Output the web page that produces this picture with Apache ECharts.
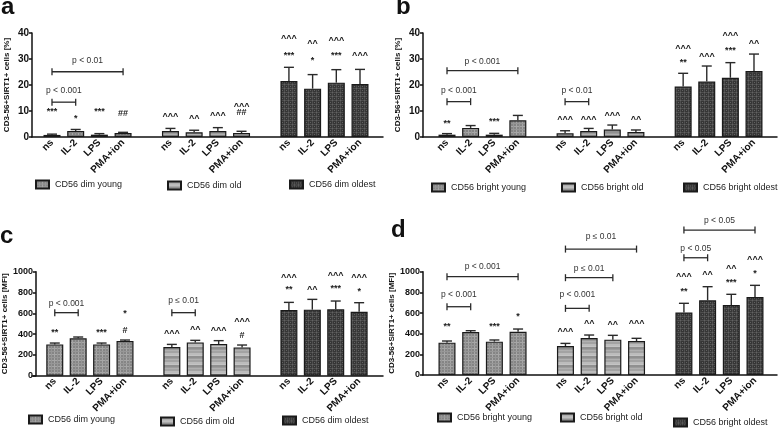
<!DOCTYPE html>
<html><head><meta charset="utf-8">
<script src="https://cdn.jsdelivr.net/npm/echarts@6/dist/echarts.min.js"></script>
<style>html,body{margin:0;padding:0;background:#fff}#c{width:778px;height:429px}</style>
</head><body><div id="c"></div>
<script>
// ---------- categories / groups / ticks ----------
const stimuli = ['ns', 'IL-2', 'LPS', 'PMA+ion'];
const dimGroups = ['CD56 dim young', 'CD56 dim old', 'CD56 dim oldest'];
const brightGroups = ['CD56 bright young', 'CD56 bright old', 'CD56 bright oldest'];
const pctTicks = [0, 10, 20, 30, 40];
const mfiTicks = [0, 200, 400, 600, 800, 1000];
const pctName = 'CD3-56+SIRT1+ cells [%]';
const mfiName = 'CD3-56+SIRT1+ cells [MFI]';

// ---------- panel a : CD56 dim, % ----------
const aYoung = [0.8, 2.3, 0.9, 1.5];
const aYoungErr = [0.3, 0.6, 0.4, 0.3];
const aOld = [2.3, 1.8, 2.3, 1.5];
const aOldErr = [1.0, 0.8, 1.3, 0.7];
const aOldest = [21.5, 18.6, 20.9, 20.4];
const aOldestErr = [5.3, 5.4, 5.0, 5.6];
// [group, stimulus, y, text]
const aMarks = [
  [0,0,10.4,'***'],[0,1,7.8,'*'],[0,2,10.4,'***'],[0,3,8.9,'##'],
  [1,0,8.4,'^^^'],[1,1,7.6,'^^'],[1,2,8.7,'^^^'],[1,3,12.3,'^^^'],[1,3,9.4,'##'],
  [2,0,38.3,'^^^'],[2,0,32.3,'***'],[2,1,36.5,'^^'],[2,1,30.2,'*'],
  [2,2,37.5,'^^^'],[2,2,32.3,'***'],[2,3,32.0,'^^^']
];
// [group, from, to, lineY, labelY, text]
const aBrackets = [[0,0,1,13.4,17.9,'p < 0.001'],[0,0,3,25.1,29.3,'p < 0.01']];

// ---------- panel b : CD56 bright, % ----------
const bYoung = [0.9, 3.5, 0.9, 6.4];
const bYoungErr = [0.4, 0.9, 0.5, 1.9];
const bOld = [1.4, 2.3, 2.9, 1.9];
const bOldErr = [1.0, 1.0, 1.7, 0.8];
const bOldest = [19.4, 21.3, 22.8, 25.4];
const bOldestErr = [5.1, 6.0, 5.8, 6.5];
const bMarks = [
  [0,0,5.9,'**'],[0,2,6.8,'***'],
  [1,0,7.2,'^^^'],[1,1,7.2,'^^^'],[1,2,8.9,'^^^'],[1,3,7.2,'^^'],
  [2,0,34.5,'^^^'],[2,0,29.3,'**'],[2,1,31.6,'^^^'],
  [2,2,39.6,'^^^'],[2,2,34.0,'***'],[2,3,36.5,'^^']
];
const bBrackets = [[0,0,3,25.5,28.9,'p < 0.001'],[0,0,1,13.6,17.7,'p < 0.001'],[1,0,1,13.6,17.7,'p < 0.01']];

// ---------- panel c : CD56 dim, MFI ----------
const cYoung = [301, 359, 301, 333];
const cYoungErr = [13, 13, 13, 10];
const cOld = [276, 320, 304, 272];
const cOldErr = [25, 20, 33, 23];
const cOldest = [631, 635, 638, 615];
const cOldestErr = [74, 99, 80, 87];
const cMarks = [
  [0,0,439,'**'],[0,2,439,'***'],[0,3,615,'*'],[0,3,439,'#'],
  [1,0,417,'^^^'],[1,1,455,'^^'],[1,2,446,'^^^'],[1,3,535,'^^^'],[1,3,385,'#'],
  [2,0,962,'^^^'],[2,0,846,'**'],[2,1,846,'^^'],
  [2,2,974,'^^^'],[2,2,856,'***'],[2,3,962,'^^^'],[2,3,833,'*']
];
const cBrackets = [[0,0,1,606,696,'p < 0.001'],[1,0,1,606,718,'p \u2264 0.01']];

// ---------- panel d : CD56 bright, MFI ----------
const dYoung = [313, 416, 323, 419];
const dYoungErr = [16, 13, 16, 26];
const dOld = [281, 358, 342, 329];
const dOldErr = [25, 29, 42, 26];
const dOldest = [606, 723, 677, 755];
const dOldestErr = [88, 132, 104, 113];
const dMarks = [
  [0,0,484,'**'],[0,2,490,'***'],[0,3,587,'*'],
  [1,0,435,'^^^'],[1,1,510,'^^'],[1,2,500,'^^'],[1,3,516,'^^^'],
  [2,0,968,'^^^'],[2,0,823,'**'],[2,1,984,'^^'],
  [2,2,1042,'^^'],[2,2,910,'***'],[2,3,1135,'^^^'],[2,3,1000,'*']
];
const dBrackets = [
  [0,0,3,952,1048,'p < 0.001'],[0,0,1,661,774,'p < 0.001'],
  [1,0,3,1219,1339,'p \u2264 0.01'],[1,0,2,942,1032,'p \u2264 0.01'],[1,0,1,645,774,'p < 0.001'],
  [2,0,3,1403,1490,'p < 0.05'],[2,0,1,1135,1226,'p < 0.05']
];

// ---------- styling / layout ----------
const FONT = '"Liberation Sans", Arial, Helvetica, sans-serif';
function makePattern(kind) {
  const c = document.createElement('canvas');
  const ctx = c.getContext('2d');
  if (kind === 0) { // plaid medium grey
    c.width = 6; c.height = 6;
    ctx.fillStyle = '#858585'; ctx.fillRect(0,0,6,6);
    ctx.fillStyle = '#a6a6a6'; ctx.fillRect(0,0,1,6); ctx.fillRect(0,0,6,1);
    ctx.fillStyle = '#979797'; ctx.fillRect(3,0,1,6); ctx.fillRect(0,3,6,1);
  } else if (kind === 1) { // horizontal stripes light grey
    c.width = 4; c.height = 9;
    const rows = ['#a3a3a3','#a3a3a3','#bcbcbc','#bcbcbc','#c4c4c4','#909090','#909090','#9c9c9c','#b0b0b0'];
    rows.forEach((col, i) => { ctx.fillStyle = col; ctx.fillRect(0,i,4,1); });
  } else { // dark dotted grid
    c.width = 4; c.height = 4;
    ctx.fillStyle = '#363636'; ctx.fillRect(0,0,4,4);
    ctx.fillStyle = '#4e4e4e'; ctx.fillRect(0,0,1,4); ctx.fillRect(0,0,4,1);
    ctx.fillStyle = '#626262'; ctx.fillRect(0,0,1,1); ctx.fillRect(2,2,1,1);
  }
  return { image: c, repeat: 'repeat' };
}
const patterns = [makePattern(0), makePattern(1), makePattern(2)];

const panels = [
  { groups: dimGroups, vals: [aYoung, aOld, aOldest], errs: [aYoungErr, aOldErr, aOldestErr],
    marks: aMarks, brackets: aBrackets, ticks: pctTicks, name: pctName, tickFont: 10,
    axisX: 32, lineEnd: 383, gridLeft: 40.15, gridWidth: 331.7, top: 33, height: 104,
    legend: [[35,185],[167,186],[289,185]], label: ['a', 1, 7] },
  { groups: brightGroups, vals: [bYoung, bOld, bOldest], errs: [bYoungErr, bOldErr, bOldestErr],
    marks: bMarks, brackets: bBrackets, ticks: pctTicks, name: pctName, tickFont: 10,
    axisX: 423, lineEnd: 777, gridLeft: 435.2, gridWidth: 330.6, top: 33, height: 104,
    legend: [[431,188],[561,188],[683,188]], label: ['b', 396, 7] },
  { groups: dimGroups, vals: [cYoung, cOld, cOldest], errs: [cYoungErr, cOldErr, cOldestErr],
    marks: cMarks, brackets: cBrackets, ticks: mfiTicks, name: mfiName, tickFont: 9,
    axisX: 32, lineEnd: 383, gridLeft: 39.15, gridWidth: 331.7, top: 271.7, height: 104,
    legend: [[28,420],[160,422],[282,421]], label: ['c', 0, 236] },
  { groups: brightGroups, vals: [dYoung, dOld, dOldest], errs: [dYoungErr, dOldErr, dOldestErr],
    marks: dMarks, brackets: dBrackets, ticks: mfiTicks, name: mfiName, tickFont: 9,
    axisX: 423, lineEnd: 777, gridLeft: 435.15, gridWidth: 331.7, top: 271.7, height: 103.3,
    legend: [[437,418],[560,418],[673,423]], label: ['d', 391, 230] }
];

const categoryLabels = [];
for (let g = 0; g < 3; g++) { stimuli.forEach(s => categoryLabels.push(s)); if (g < 2) categoryLabels.push(''); }
const slot = (g, i) => g * 5 + i;

const option = { animation: false, grid: [], xAxis: [], yAxis: [], series: [], legend: [], graphic: [] };

panels.forEach((P, p) => {
  const gi = option.grid.length;
  option.grid.push({ left: P.gridLeft, top: P.top, width: P.gridWidth, height: P.height });
  option.grid.push({ left: P.axisX, top: P.top, width: P.lineEnd - P.axisX, height: P.height });
  option.xAxis.push({
    type: 'category', gridIndex: gi, data: categoryLabels, boundaryGap: true,
    axisLine: { show: false }, axisTick: { show: false }, splitLine: { show: false },
    axisLabel: { rotate: 45, interval: 0, margin: 4, fontSize: 10, fontWeight: 'bold', color: '#111', fontFamily: FONT }
  });
  option.xAxis.push({
    type: 'value', gridIndex: gi + 1, min: 0, max: 1,
    axisLine: { show: true, onZero: false, lineStyle: { color: '#111', width: 1.5 } },
    axisTick: { show: false }, axisLabel: { show: false }, splitLine: { show: false }
  });
  const t = P.ticks;
  option.yAxis.push({
    type: 'value', gridIndex: gi, min: t[0], max: t[t.length - 1], interval: t[1] - t[0],
    offset: P.gridLeft - P.axisX,
    name: P.name, nameLocation: 'middle', nameGap: 21,
    nameTextStyle: { fontSize: 8, fontWeight: 'bold', color: '#111', fontFamily: FONT },
    axisLine: { show: true, lineStyle: { color: '#111', width: 1.5 } },
    axisTick: { show: true, length: 3, lineStyle: { color: '#111', width: 1.5 } },
    axisLabel: { margin: 3, fontSize: P.tickFont, fontWeight: 'bold', color: '#111', fontFamily: FONT,
      formatter: v => String(v) },
    splitLine: { show: false }
  });
  option.yAxis.push({ type: 'value', gridIndex: gi + 1, min: 0, max: 1, show: false });

  // bars
  P.groups.forEach((name, g) => {
    const data = new Array(categoryLabels.length).fill(null);
    P.vals[g].forEach((v, i) => { data[slot(g, i)] = v; });
    option.series.push({
      type: 'bar', name, xAxisIndex: gi, yAxisIndex: gi, data,
      barWidth: 17, barGap: '-100%', silent: true,
      itemStyle: { color: patterns[g], borderColor: '#1a1a1a', borderWidth: 1.2 }
    });
  });

  // error bars (upper only)
  const errData = [];
  P.groups.forEach((name, g) => P.vals[g].forEach((v, i) => errData.push([slot(g, i), v, P.errs[g][i]])));
  option.series.push({
    type: 'custom', xAxisIndex: gi, yAxisIndex: gi, data: errData, encode: { x: 0, y: 1 },
    clip: false, silent: true, z: 3,
    renderItem: (params, api) => {
      const x = api.value(0), v = api.value(1), e = api.value(2);
      const b = api.coord([x, v]), tp = api.coord([x, v + e]);
      const st = { stroke: '#2a2a2a', lineWidth: 1.4 };
      return { type: 'group', children: [
        { type: 'line', shape: { x1: b[0], y1: b[1], x2: tp[0], y2: tp[1] }, style: st },
        { type: 'line', shape: { x1: tp[0] - 5, y1: tp[1], x2: tp[0] + 5, y2: tp[1] }, style: st }
      ]};
    }
  });

  // significance marks
  const marks = P.marks;
  option.series.push({
    type: 'custom', xAxisIndex: gi, yAxisIndex: gi, encode: { x: 0, y: 1 },
    data: marks.map(m => [slot(m[0], m[1]), m[2]]),
    clip: false, silent: true, z: 4,
    renderItem: (params, api) => {
      const m = marks[params.dataIndex];
      const pt = api.coord([api.value(0), api.value(1)]);
      const dy = m[3].indexOf('*') >= 0 ? 2 : (m[3].indexOf('^') >= 0 ? 1.5 : 0);
      return { type: 'text', x: pt[0], y: pt[1] + dy,
        style: { text: m[3], fill: '#1a1a1a', font: 'bold 9px ' + FONT, align: 'center', verticalAlign: 'middle' } };
    }
  });

  // comparison brackets
  const br = P.brackets;
  option.series.push({
    type: 'custom', xAxisIndex: gi, yAxisIndex: gi, encode: { x: 0, y: 1 },
    data: br.map(b => [slot(b[0], b[1]), b[3], slot(b[0], b[2]), b[4]]),
    clip: false, silent: true, z: 4,
    renderItem: (params, api) => {
      const b = br[params.dataIndex];
      const p1 = api.coord([api.value(0), api.value(1)]);
      const p2 = api.coord([api.value(2), api.value(1)]);
      const pl = api.coord([api.value(0), api.value(3)]);
      const st = { stroke: '#2a2a2a', lineWidth: 1.3 };
      return { type: 'group', children: [
        { type: 'line', shape: { x1: p1[0], y1: p1[1], x2: p2[0], y2: p2[1] }, style: st },
        { type: 'line', shape: { x1: p1[0], y1: p1[1] - 3.5, x2: p1[0], y2: p1[1] + 3.5 }, style: st },
        { type: 'line', shape: { x1: p2[0], y1: p2[1] - 3.5, x2: p2[0], y2: p2[1] + 3.5 }, style: st },
        { type: 'text', x: (p1[0] + p2[0]) / 2, y: pl[1],
          style: { text: b[5], fill: '#333', font: '8.5px ' + FONT, align: 'center', verticalAlign: 'middle' } }
      ]};
    }
  });

  // legends: one item each
  P.groups.forEach((name, g) => {
    option.legend.push({
      data: [name], left: P.legend[g][0], top: P.legend[g][1] - 5.5, padding: 0,
      itemWidth: 13, itemHeight: 8, itemGap: 0, icon: 'rect', selectedMode: false,
      textStyle: { fontSize: 9, color: '#222', fontFamily: FONT, padding: [0, 0, 0, 1] }
    });
  });

  // panel letter
  option.graphic.push({ type: 'text', x: P.label[1], y: P.label[2],
    style: { text: P.label[0], font: 'bold 24px ' + FONT, fill: '#111', align: 'left', verticalAlign: 'middle' } });
});

const chart = echarts.init(document.getElementById('c'), null, { renderer: 'canvas' });
chart.setOption(option);
</script>
</body></html>
